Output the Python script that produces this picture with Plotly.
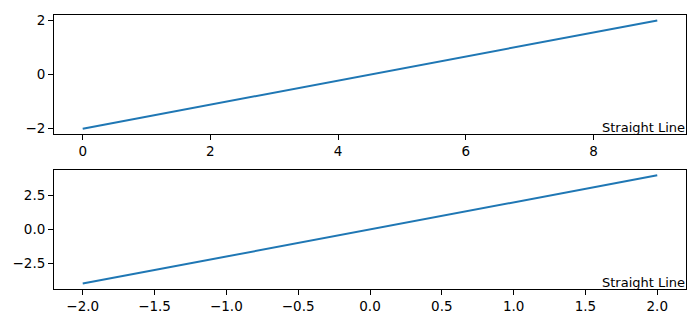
import plotly.graph_objects as go
from plotly.subplots import make_subplots

# Top panel data
top_x = [0, 1, 2, 3, 4, 5, 6, 7, 8, 9]
top_y = [-2.0, -1.556, -1.111, -0.667, -0.222, 0.222, 0.667, 1.111, 1.556, 2.0]

# Bottom panel data
bot_x = [-2.0, -1.556, -1.111, -0.667, -0.222, 0.222, 0.667, 1.111, 1.556, 2.0]
bot_y = [-4.0, -3.111, -2.222, -1.333, -0.444, 0.444, 1.333, 2.222, 3.111, 4.0]

label_text = "Straight Line"

fig = make_subplots(rows=2, cols=1, vertical_spacing=0.0)

line_style = dict(color="#1f77b4", width=2)
fig.add_trace(go.Scatter(x=top_x, y=top_y, mode="lines", line=line_style, showlegend=False), row=1, col=1)
fig.add_trace(go.Scatter(x=bot_x, y=bot_y, mode="lines", line=line_style, showlegend=False), row=2, col=1)

FS = 13.5
axis_common = dict(
    showgrid=False, zeroline=False, showline=True, mirror=True,
    linecolor="black", linewidth=1, ticks="outside", ticklen=5,
    tickwidth=1, tickcolor="black",
    tickfont=dict(family="DejaVu Sans", size=FS, color="black"),
)

fig.update_layout(
    width=700, height=326,
    margin=dict(l=54, r=14, t=14, b=36),
    paper_bgcolor="white", plot_bgcolor="white",
    font=dict(family="DejaVu Sans", size=FS, color="black"),
    xaxis=dict(axis_common, range=[-0.45, 9.45], dtick=2, tick0=0, domain=[0, 1]),
    yaxis=dict(axis_common, range=[-2.2, 2.2], dtick=2, tick0=0, domain=[0.5652, 1]),
    xaxis2=dict(axis_common, range=[-2.2, 2.2], dtick=0.5, tick0=0, tickformat=".1f", domain=[0, 1]),
    yaxis2=dict(axis_common, range=[-4.4, 4.4], dtick=2.5, tick0=0, tickformat=".1f", domain=[0, 0.4348]),
)

for xr, yr in [("x domain", "y domain"), ("x2 domain", "y2 domain")]:
    fig.add_annotation(
        text=label_text, xref=xr, yref=yr, x=1, y=0,
        xanchor="right", yanchor="bottom", showarrow=False,
        font=dict(family="DejaVu Sans", size=13, color="black"),
        borderpad=0, yshift=-2,
    )

fig.write_html("out.html")
